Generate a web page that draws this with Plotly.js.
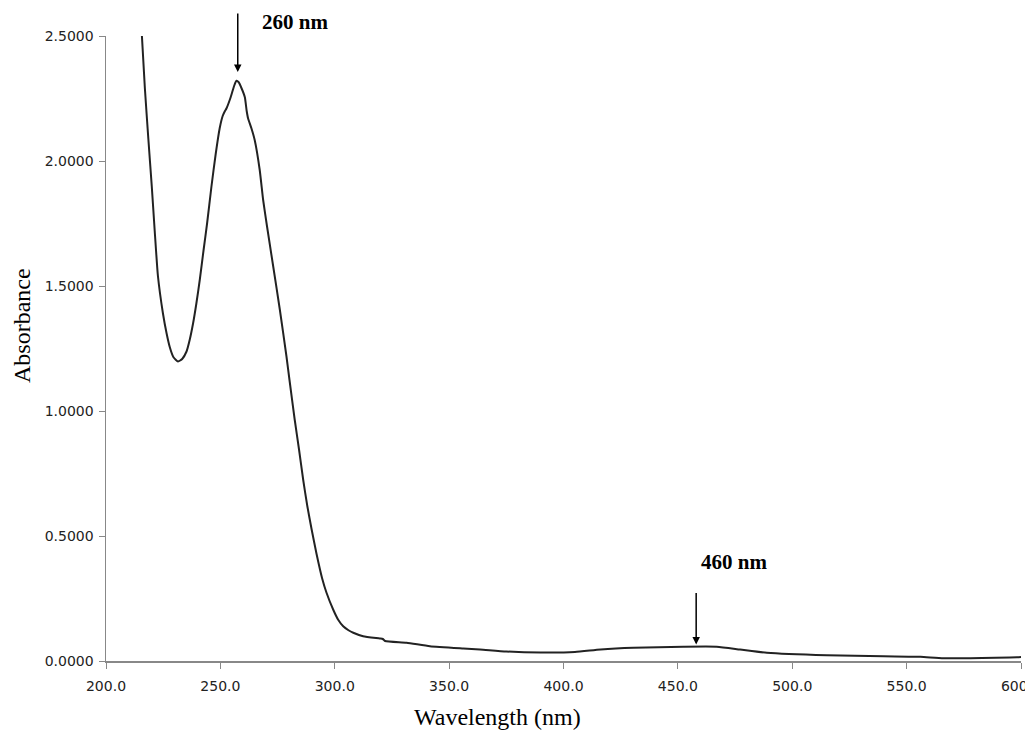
<!DOCTYPE html>
<html>
<head>
<meta charset="utf-8">
<script src="https://cdn.plot.ly/plotly-3.0.1.min.js"></script>
<style>
html,body{margin:0;padding:0;background:#fff;}
#chart{width:1025px;height:734px;}
</style>
</head>
<body>
<div id="chart"></div>
<script>
const wavelength = [215.7, 217.0, 218.5, 220.0, 221.3, 222.7, 224.9, 226.5, 227.9, 229.5, 231.5, 233.3, 235.2, 236.6, 238.1, 239.5, 241.0, 242.6, 244.2, 246.1, 248.0, 249.7, 251.0, 252.0, 252.7, 254.5, 256.0, 257.0, 258.0, 259.3, 260.7, 261.5, 262.1, 263.6, 265.0, 267.2, 268.7, 270.4, 273.1, 276.0, 278.9, 280.2, 282.5, 284.4, 286.2, 288.0, 289.9, 292.0, 294.5, 296.4, 299.3, 301.5, 303.7, 306.0, 308.1, 312.4, 319.7, 321.0, 322.0, 331.4, 341.6, 356.2, 363.5, 375.0, 390.0, 405.0, 416.2, 430.6, 452.4, 467.0, 477.2, 488.9, 515.1, 539.9, 556.0, 566.2, 598.3, 600.0];
const absorbance = [2.50, 2.29, 2.09, 1.90, 1.72, 1.54, 1.39, 1.31, 1.255, 1.215, 1.198, 1.208, 1.238, 1.285, 1.352, 1.43, 1.525, 1.64, 1.751, 1.898, 2.031, 2.131, 2.18, 2.20, 2.211, 2.255, 2.30, 2.321, 2.315, 2.29, 2.255, 2.20, 2.171, 2.13, 2.084, 1.964, 1.844, 1.738, 1.578, 1.405, 1.218, 1.125, 0.965, 0.845, 0.725, 0.62, 0.526, 0.43, 0.33, 0.273, 0.206, 0.165, 0.139, 0.123, 0.113, 0.099, 0.090, 0.088, 0.080, 0.073, 0.059, 0.050, 0.046, 0.038, 0.034, 0.036, 0.046, 0.053, 0.057, 0.057, 0.046, 0.033, 0.023, 0.019, 0.017, 0.011, 0.015, 0.016];

const peakLabels = ["260 nm", "460 nm"];
const peakArrowX = [257.6, 458.0];
const peakArrowY = [2.356, 0.066];
const peakArrowLen = [60, 53];
const peakLabelPx = [[295, 22], [734, 562]];

const xTickVals = [200, 250, 300, 350, 400, 450, 500, 550, 600];
const yTickVals = [0, 0.5, 1.0, 1.5, 2.0, 2.5];

const L = 106, R = 4, T = 36, B = 73, W = 1025, H = 734;
const pw = W - L - R, ph = H - T - B;
const px2paperX = p => (p - L) / pw;
const px2paperY = p => (H - B - p) / ph;

const trace = {
  x: wavelength, y: absorbance, type: 'scatter', mode: 'lines',
  line: {color: '#222222', width: 2, shape: 'spline', smoothing: 0.5}, hoverinfo: 'skip'
};

const annotations = [];
for (let i = 0; i < peakLabels.length; i++) {
  annotations.push({
    x: peakArrowX[i], y: peakArrowY[i], xref: 'x', yref: 'y',
    ax: 0, ay: -peakArrowLen[i],
    showarrow: true, arrowhead: 2, arrowsize: 1, arrowwidth: 1.5, arrowcolor: '#000', text: ''
  });
  annotations.push({
    x: px2paperX(peakLabelPx[i][0]), y: px2paperY(peakLabelPx[i][1]),
    xref: 'paper', yref: 'paper', xanchor: 'center', yanchor: 'middle', showarrow: false,
    text: '<b>' + peakLabels[i] + '</b>',
    font: {family: 'Liberation Serif', size: 21, color: '#000'}
  });
}
annotations.push({
  x: px2paperX(497), y: px2paperY(717), xref: 'paper', yref: 'paper',
  xanchor: 'center', yanchor: 'middle', showarrow: false, text: 'Wavelength (nm)',
  font: {family: 'Liberation Serif', size: 24, color: '#000'}
});
annotations.push({
  x: px2paperX(22), y: px2paperY(326), xref: 'paper', yref: 'paper',
  xanchor: 'center', yanchor: 'middle', showarrow: false, text: 'Absorbance', textangle: -90,
  font: {family: 'Liberation Serif', size: 24, color: '#000'}
});

const layout = {
  width: W, height: H,
  margin: {l: L, r: R, t: T, b: B, pad: 0},
  paper_bgcolor: '#fff', plot_bgcolor: '#fff',
  showlegend: false,
  xaxis: {
    range: [200, 600], tickvals: xTickVals, tickformat: '.1f',
    showgrid: false, zeroline: false, showline: true, linecolor: '#888', linewidth: 1.5,
    ticks: 'outside', ticklen: 6, tickcolor: '#888', tickwidth: 1,
    tickfont: {family: 'DejaVu Sans', size: 14, color: '#222'}, ticklabelstandoff: 6,
    ticklabeloverflow: 'allow'
  },
  yaxis: {
    range: [0, 2.5], tickvals: yTickVals, tickformat: '.4f',
    showgrid: false, zeroline: false, showline: true, linecolor: '#888', linewidth: 1.5,
    ticks: 'outside', ticklen: 6, tickcolor: '#888', tickwidth: 1,
    tickfont: {family: 'DejaVu Sans', size: 14, color: '#222'}, ticklabelstandoff: 2,
    ticklabeloverflow: 'allow'
  },
  annotations: annotations
};

Plotly.newPlot('chart', [trace], layout, {displayModeBar: false, staticPlot: true});
</script>
</body>
</html>
